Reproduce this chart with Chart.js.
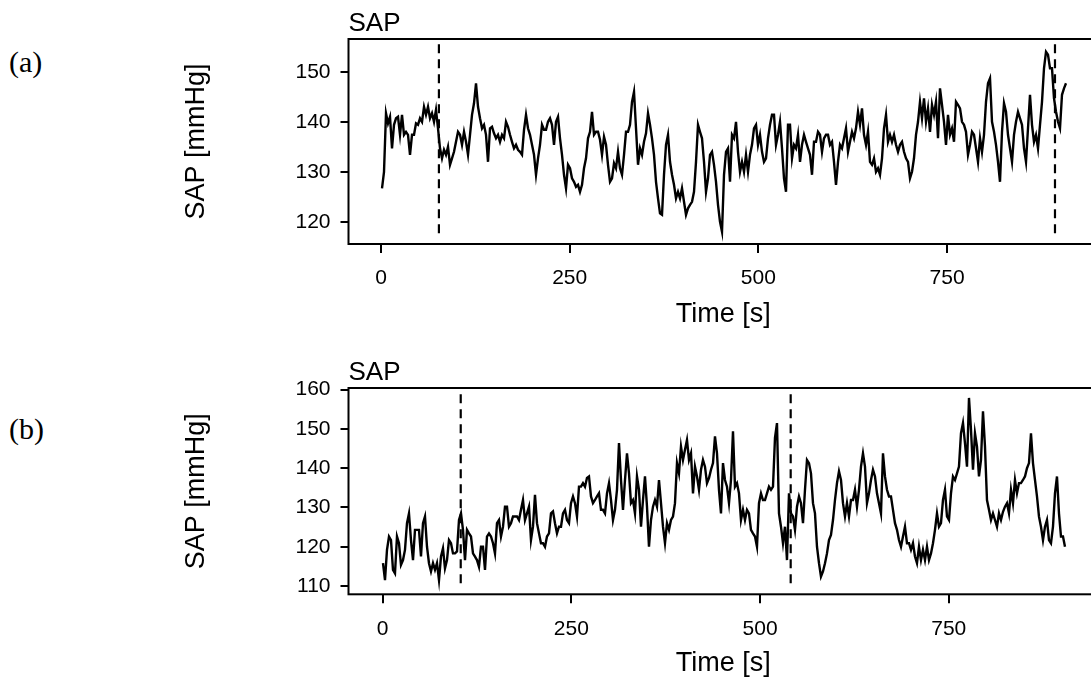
<!DOCTYPE html>
<html>
<head>
<meta charset="utf-8">
<script src="https://cdn.jsdelivr.net/npm/chart.js@4"></script>
<style>
html,body{margin:0;padding:0;background:#fff;overflow:hidden;width:1091px;height:681px;}
.panel{position:absolute;left:0;}
.tag{position:absolute;left:9px;font-family:"Liberation Serif","Times New Roman",serif;font-size:30px;line-height:30px;color:#000;}
</style>
</head>
<body>
<div class="tag" style="top:47px">(a)</div>
<div class="tag" style="top:414px">(b)</div>
<div class="panel" style="top:0px"><canvas id="cA" width="1110" height="345"></canvas></div>
<div class="panel" style="top:349px"><canvas id="cB" width="1110" height="345"></canvas></div>
<script>
// ---- data ----
const xTicks = [0, 250, 500, 750];
const yTicksA = [120, 130, 140, 150];
const yTicksB = [110, 120, 130, 140, 150, 160];
const startA = 1.3, stepA = 2.65;   // sampling of panel (a), seconds
const startB = 0.4, stepB = 2.65;   // sampling of panel (b), seconds
const markersA = [76.7, 893];       // dashed markers, seconds
const markersB = [103.4, 540.6];
const markerSpanA = [117.8, 156.1];
const markerSpanB = [110.7, 159.6];
const sapA = [
126.8,130.1,141.8,139.8,141.1,134.8,139.5,140.8,141.1,137.5,141.5,137.5,138.1,137.5,133.5,137.5,137.5,139.8,139.5,140.8,
140.1,143.1,141.5,143.1,140.8,141.8,140.1,142.5,138.8,134.8,132.8,134.5,133.5,135.1,131.5,132.8,134.1,136.1,138.1,137.5,
135.5,138.1,136.1,133.5,137.5,141.5,143.8,147.8,143.1,140.8,138.8,139.5,137.5,132.1,138.8,139.1,137.8,136.8,137.5,136.1,
137.5,136.8,140.1,139.1,137.5,136.1,134.8,135.5,134.5,134.1,133.5,138.5,141.5,138.8,137.5,135.5,133.5,129.5,132.8,135.5,
139.5,138.5,138.5,140.1,140.8,139.5,135.5,140.1,141.1,136.8,133.5,129.5,126.8,131.5,130.8,128.8,128.1,127.1,127.5,126.1,
127.5,130.8,132.8,136.8,138.1,142.1,137.5,138.1,138.1,136.5,133.5,137.1,135.5,131.5,128.1,
128.8,131.8,130.8,134.1,130.8,129.5,133.5,138.1,138.1,139.5,144.1,146.1,138.8,131.5,134.8,133.5,136.1,137.8,141.8,139.5,
136.8,133.5,128.1,124.8,121.8,121.5,129.5,135.5,137.5,132.1,129.5,127.5,124.8,126.1,124.8,126.8,124.1,121.5,122.8,123.5,
124.1,126.1,132.1,139.5,138.1,136.8,132.1,126.1,128.8,133.5,134.1,131.5,128.1,123.5,120.1,118.1,129.5,134.1,134.8,128.1,
137.5,136.8,140.1,134.1,130.1,132.1,130.1,133.5,130.1,133.5,135.5,138.8,139.5,135.5,137.5,134.1,132.1,132.8,136.8,139.5,
141.5,141.5,135.5,137.5,140.1,134.8,128.8,126.1,139.5,139.5,132.8,135.5,134.8,137.5,132.1,135.5,137.5,136.1,134.8,133.5,
129.5,136.1,136.1,138.1,137.5,134.1,136.8,137.5,137.5,135.5,136.1,132.1,127.5,132.1,135.5,134.8,136.8,
138.8,134.1,136.1,138.1,136.8,138.8,142.1,139.5,142.8,137.5,135.5,138.1,132.1,131.5,132.8,130.1,130.8,129.5,132.8,138.8,
141.5,136.1,137.5,136.1,137.5,135.5,134.1,135.5,136.1,134.1,132.8,132.1,128.8,130.1,132.8,137.5,140.1,144.1,140.8,144.8,
140.1,142.8,138.1,143.5,141.5,144.1,136.8,146.8,143.5,140.1,135.5,141.5,137.5,138.8,136.1,144.1,143.5,142.8,140.1,139.5,
138.1,133.5,135.5,138.1,137.5,134.8,132.1,136.8,134.1,137.5,144.1,147.8,148.8,140.1,138.1,135.5,132.1,128.1,138.1,143.8,
142.1,137.5,134.8,132.1,137.5,140.1,142.1,140.8,139.5,134.8,132.1,138.8,145.5,139.5,136.1,137.5,134.8,139.5,144.1,150.8,
154.1,153.5,150.8,150.8,144.8,142.1,140.1,138.8,145.5,146.8,147.8
];
const sapB = [
115.8,111.5,119.2,122.6,121.7,114.1,113.2,122.6,120.9,115.4,116.6,119.2,126.0,128.5,121.7,116.6,124.3,124.3,124.3,117.5,
126.0,127.7,120.0,115.8,113.7,115.8,114.1,115.8,111.5,117.5,119.6,114.5,116.6,121.7,120.9,118.3,118.3,118.8,126.8,128.5,
124.3,116.6,124.3,123.4,122.6,118.3,117.5,116.6,114.9,120.0,120.0,114.1,122.6,123.4,122.6,120.9,118.3,126.0,126.8,122.6,
125.1,130.2,130.2,125.1,126.0,127.7,127.7,127.7,126.8,129.4,131.9,126.8,128.5,130.2,121.7,125.1,133.2,126.0,123.4,120.9,
120.9,120.0,122.6,123.4,128.5,129.0,126.0,123.4,125.1,125.1,128.5,129.4,126.8,126.0,131.1,132.8,131.1,127.7,135.3,135.3,
136.2,135.3,137.5,137.9,132.8,131.1,131.9,132.8,133.6,129.4,129.4,128.5,133.6,136.2,
131.9,126.8,129.4,134.5,146.4,137.0,129.4,137.0,143.8,138.7,131.1,131.9,128.5,137.9,134.5,125.1,131.9,137.9,130.2,120.0,
126.8,130.2,131.9,130.2,137.0,131.1,125.1,120.9,126.0,124.3,126.8,127.7,131.1,141.3,138.7,145.5,142.1,144.7,147.2,142.1,
143.8,133.6,140.4,137.9,134.5,139.6,142.1,140.4,136.2,137.5,139.6,141.3,148.1,143.8,134.5,128.5,141.3,137.0,135.3,131.1,
137.0,149.4,135.3,136.2,133.6,126.8,129.4,126.8,129.4,128.5,124.3,123.4,122.6,120.0,131.1,133.6,131.9,131.9,133.6,135.3,
134.5,135.3,147.7,151.5,128.5,125.1,120.9,125.1,116.6,133.6,128.5,127.7,124.3,130.2,132.8,131.1,126.0,134.5,142.1,141.3,
138.7,131.1,128.5,120.0,115.8,112.4,113.7,115.8,118.3,121.7,123.0,126.8,131.9,136.2,139.2,137.0,131.1,
127.7,131.1,127.7,131.9,131.9,134.5,130.2,134.5,140.4,143.8,140.4,131.1,133.6,137.0,139.6,137.9,133.6,131.1,128.5,143.8,
137.9,134.5,132.8,132.8,129.4,126.0,124.3,121.7,120.0,122.6,125.1,120.9,120.9,119.2,120.9,117.5,115.8,120.0,116.6,119.2,
116.6,120.0,116.6,118.3,120.9,124.3,128.5,125.1,126.0,131.9,134.5,127.7,126.8,133.6,137.9,137.0,138.7,140.4,148.9,151.5,
146.4,140.4,157.9,149.8,139.6,148.9,145.5,137.9,142.1,154.5,145.5,131.9,129.4,126.8,128.5,126.8,125.1,128.5,126.8,128.9,
130.2,131.1,128.5,134.5,131.1,137.0,133.6,136.2,136.2,137.0,137.9,140.0,141.3,148.9,141.3,137.0,132.8,127.7,125.1,121.7,
125.1,126.8,121.7,120.9,125.1,133.6,137.9,128.5,122.6,122.6,120.0
];

// ---- helpers ----
const FONT = '"Liberation Sans", Arial, Helvetica, sans-serif';
function series(start, step, vals){ return vals.map((v,i)=>({x: start + i*step, y: v})); }
function markerSets(ts, span){
  return ts.map(t=>({data:[{x:t,y:span[0]},{x:t,y:span[1]}], borderColor:'#000', borderWidth:2.2, borderDash:[9,6], pointRadius:0, tension:0}));
}
const boxPlugin = {
  id:'box',
  afterDatasetsDraw(chart){
    const a = chart.chartArea, c = chart.ctx;
    c.save(); c.strokeStyle='#000'; c.lineWidth=2;
    c.strokeRect(a.left, a.top, a.right - a.left, a.bottom - a.top);
    c.restore();
  }
};
function makeChart(id, vals, start, step, markers, span, yTicks, xmin, xmax, ymin, ymax, xAxisH){
  new Chart(document.getElementById(id), {
    type:'line',
    data:{datasets:[
      {data: series(start, step, vals), borderColor:'#000', borderWidth:2.4, pointRadius:0, tension:0, fill:false, borderJoinStyle:'miter'},
      ...markerSets(markers, span)
    ]},
    options:{
      responsive:false, animation:false, devicePixelRatio:1,
      layout:{padding:{left:180, right:12, top:7.8, bottom:0}},
      plugins:{
        legend:{display:false}, tooltip:{enabled:false},
        title:{display:true, text:'SAP', align:'start', position:'top', fullSize:false, color:'#000',
               font:{family:FONT, size:26, weight:'normal'}, padding:{top:0, bottom:0}}
      },
      scales:{
        x:{type:'linear', min:xmin, max:xmax,
           afterFit(s){ s.height = xAxisH; },
           afterBuildTicks(s){ s.ticks = xTicks.map(v=>({value:v})); },
           grid:{drawOnChartArea:false, drawTicks:true, tickLength:9, color:'#000', lineWidth:2},
           border:{display:false},
           ticks:{color:'#000', font:{family:FONT, size:21}, padding:13, maxRotation:0, autoSkip:false},
           title:{display:true, text:'Time [s]', color:'#000', font:{family:FONT, size:27}, padding:{top:0, bottom:13.8}}
        },
        y:{type:'linear', min:ymin, max:ymax,
           afterFit(s){ s.width = 168.5; },
           afterBuildTicks(s){ s.ticks = yTicks.map(v=>({value:v})); },
           grid:{drawOnChartArea:false, drawTicks:true, tickLength:8, color:'#000', lineWidth:2},
           border:{display:false},
           ticks:{color:'#000', font:{family:FONT, size:21}, padding:10, autoSkip:false},
           title:{display:true, text:'SAP [mmHg]', color:'#000', font:{family:FONT, size:27}, padding:{top:0.8, bottom:0}}
        }
      }
    },
    plugins:[boxPlugin]
  });
}
makeChart('cA', sapA, startA, stepA, markersA, markerSpanA, yTicksA, -43.1, 950, 115.66, 156.66, 101);
makeChart('cB', sapB, startB, stepB, markersB, markerSpanB, yTicksB, -45.3, 947.8, 107.88, 160.43, 99.7);
</script>
</body>
</html>
